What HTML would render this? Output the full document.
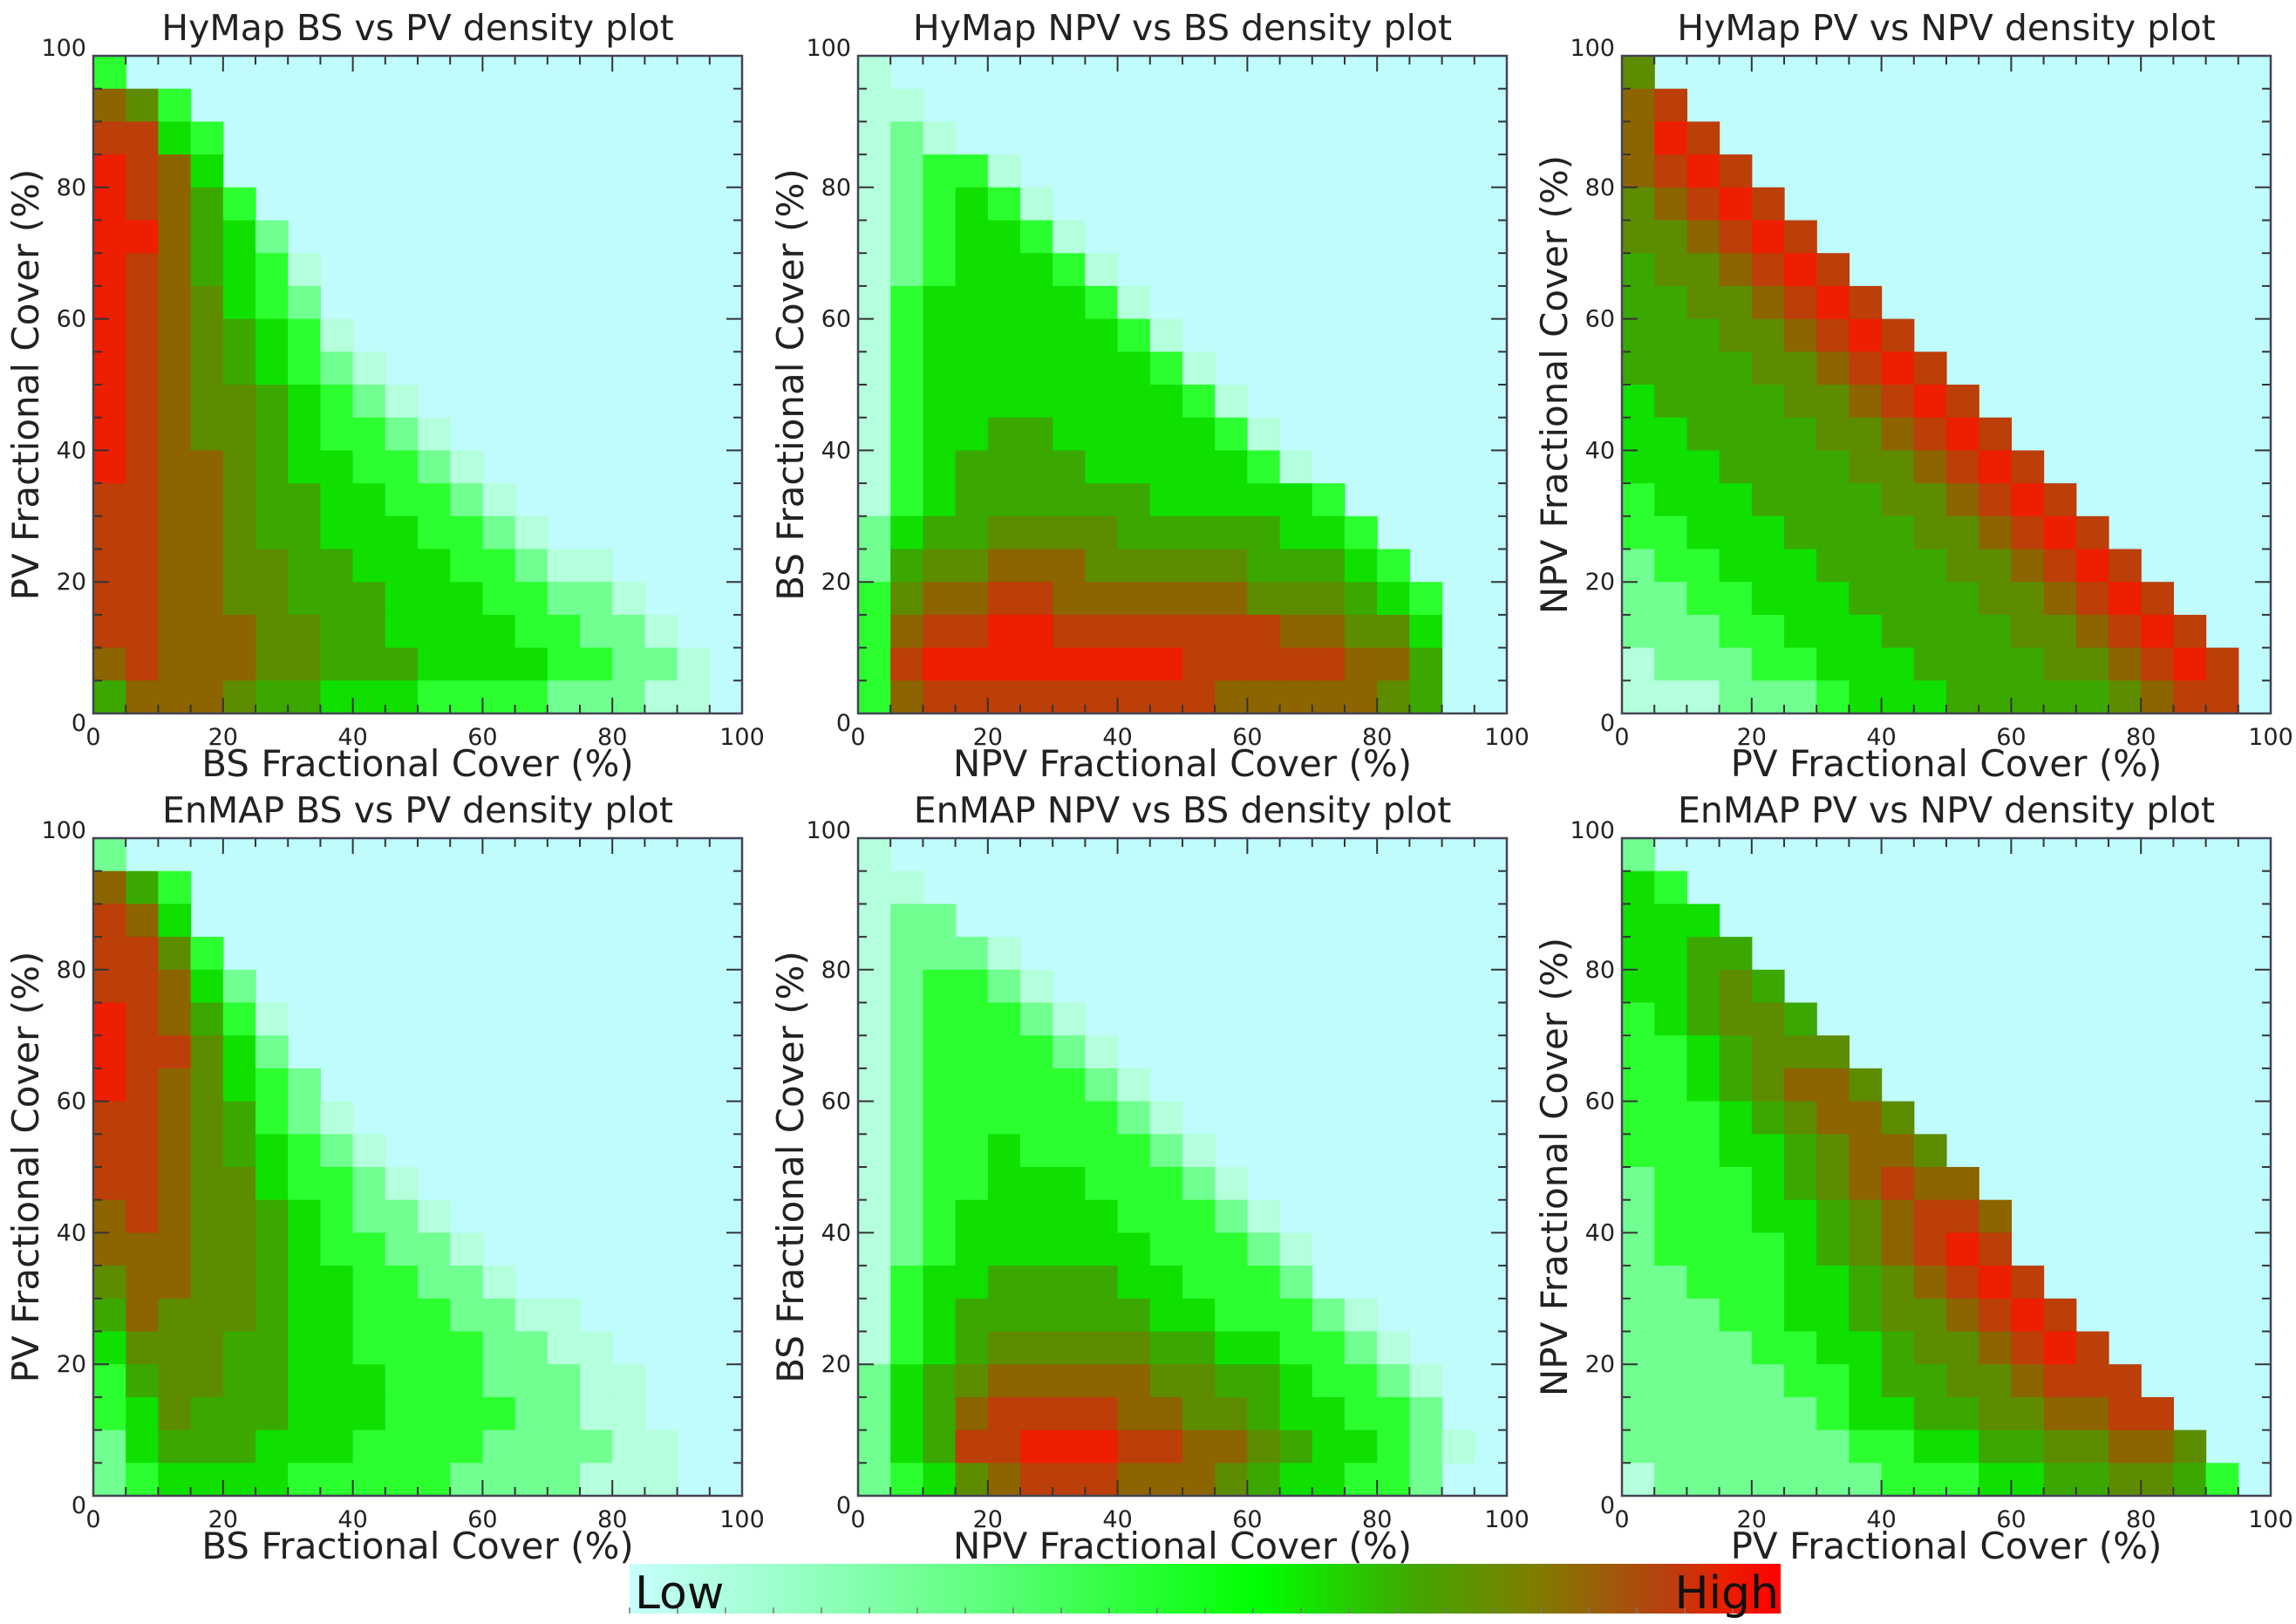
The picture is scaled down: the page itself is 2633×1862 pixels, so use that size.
<!DOCTYPE html>
<html><head><meta charset="utf-8"><style>
html,body{margin:0;padding:0;background:#fff;}
svg{display:block;font-family:"DejaVu Sans","Liberation Sans",sans-serif;}
</style></head><body>
<svg id="fig" width="2633" height="1862" viewBox="0 0 2633 1862" xmlns="http://www.w3.org/2000/svg"></svg>
<script>
// Panel titles and axis labels
const titles = ["HyMap BS vs PV density plot","HyMap NPV vs BS density plot","HyMap PV vs NPV density plot","EnMAP BS vs PV density plot","EnMAP NPV vs BS density plot","EnMAP PV vs NPV density plot"];
const xLabels = ["BS Fractional Cover (%)","NPV Fractional Cover (%)","PV Fractional Cover (%)","BS Fractional Cover (%)","NPV Fractional Cover (%)","PV Fractional Cover (%)"];
const yLabels = ["PV Fractional Cover (%)","BS Fractional Cover (%)","NPV Fractional Cover (%)","PV Fractional Cover (%)","BS Fractional Cover (%)","NPV Fractional Cover (%)"];
const tickValues = [0,20,40,60,80,100];
const binEdges = [0,5,10,15,20,25,30,35,40,45,50,55,60,65,70,75,80,85,90,95];
// density levels 0-9 per 5% bin; rows from top (95-100) to bottom (0-5), columns x 0-5 .. 95-100
const densityHyMapBSPV = ["30000000000000000000","76300000000000000000","88430000000000000000","98740000000000000000","98753000000000000000","99754200000000000000","98754310000000000000","98764320000000000000","98765431000000000000","98765432100000000000","98766543210000000000","98766543321000000000","98776544332100000000","88776554433210000000","88776554443321000000","88776655444332110000","88776655544433221000","88777665544443322100","78777665554444332210","57776554443333222110"];
const densityHyMapNPVBS = ["10000000000000000000","11000000000000000000","12100000000000000000","12331000000000000000","12343100000000000000","12344310000000000000","12344431000000000000","13444443100000000000","13444444310000000000","13444444431000000000","13444444443100000000","13445544444310000000","13455554444431000000","13455555544444300000","24556666555554430000","25667776666655543000","36778877777766654300","37889988888887766400","38999999998888877500","37888888888777776500"];
const densityHyMapPVNPV = ["60000000000000000000","78000000000000000000","79800000000000000000","78980000000000000000","67898000000000000000","66789800000000000000","56678980000000000000","55667898000000000000","55566789800000000000","55556678980000000000","45555667898000000000","44555566789800000000","44455556678980000000","34445555667898000000","33444555566789800000","23344455556678980000","22334445555667898000","22233444555566789800","12223344455556678980","11122234445555567880"];
const densityEnMAPBSPV = ["20000000000000000000","75300000000000000000","87400000000000000000","88630000000000000000","88742000000000000000","98753100000000000000","98864200000000000000","98764320000000000000","88765321000000000000","88765432100000000000","88766433210000000000","78766543221000000000","77766543322100000000","67766544332210000000","57666544333221100000","46665544333322110000","35665544433322211000","34655544433332211000","24555444333322221100","23444433333222211100"];
const densityEnMAPNPVBS = ["10000000000000000000","11000000000000000000","12200000000000000000","12221000000000000000","12332100000000000000","12333210000000000000","12333321000000000000","12333332100000000000","12333333210000000000","12334333321000000000","12334443332100000000","12344444333210000000","12344444433321000000","13445555443332000000","13455555544333210000","13456666655443321000","24567777766554332100","24578888776654433200","24588999887765443210","23467888777654433200"];
const densityEnMAPPVNPV = ["20000000000000000000","43000000000000000000","44400000000000000000","44550000000000000000","44565000000000000000","34566500000000000000","33456660000000000000","33456776000000000000","33345677600000000000","33344567760000000000","23334567877000000000","23334456788700000000","23333456789800000000","22333445678980000000","22233445667898000000","22223344566789800000","22222334556678880000","22222234455667788000","22222223344556677600","12222222333445566530"];
const densities = [densityHyMapBSPV,densityHyMapNPVBS,densityHyMapPVNPV,densityEnMAPBSPV,densityEnMAPNPVBS,densityEnMAPPVNPV];
const levelColors = ["#c0fcfc","#b4ffdc","#70ff90","#2cff30","#10e000","#3aa800","#5e8c00","#8c6400","#bc3e08","#ee1e00"];

const NS="http://www.w3.org/2000/svg";
const svg=document.getElementById('fig');
function mk(tag,attrs,parent){const e=document.createElementNS(NS,tag);for(const k in attrs)e.setAttribute(k,attrs[k]);(parent||svg).appendChild(e);return e;}

const colX=[107,984,1860], rowY=[64,961], W=744, H=754;
for(let p=0;p<6;p++){
  const L=colX[p%3], T=rowY[Math.floor(p/3)];
  const sx=v=>L+v/100*W, sy=v=>T+H-v/100*H;
  const g=mk('g',{});
  
  
  const bg=mk('rect',{x:L,y:T,width:W,height:H,fill:levelColors[0]},g);
  
  
  const dens=densities[p];
  for(let r=0;r<dens.length;r++){
    const yv=100-5*(r+1);
    for(let c=0;c<binEdges.length;c++){
      const lv=+dens[r][c]; if(!lv)continue;
      const xv=binEdges[c];
      const cell=mk('rect',{x:sx(xv),y:sy(yv+5),width:sx(xv+5)-sx(xv)+0.6,height:sy(yv)-sy(yv+5)+0.6,fill:levelColors[lv]},g);
      
      
    }
  }
  for(let v=0;v<=100;v+=5){
    const len=(v%20===0)?18:10;
    mk('line',{x1:sx(v),y1:T+H,x2:sx(v),y2:T+H-len,stroke:'#333',"stroke-width":2},g);
    mk('line',{x1:sx(v),y1:T,x2:sx(v),y2:T+len,stroke:'#333',"stroke-width":2},g);
    mk('line',{x1:L,y1:sy(v),x2:L+len,y2:sy(v),stroke:'#333',"stroke-width":2},g);
    mk('line',{x1:L+W,y1:sy(v),x2:L+W-len,y2:sy(v),stroke:'#333',"stroke-width":2},g);
  }
  const fr=mk('rect',{x:L,y:T,width:W,height:H,fill:'none',stroke:'#445',"stroke-width":2.5},g);
  
  
  tickValues.forEach(v=>{
    const tx=mk('text',{x:sx(v),y:T+H+36,"font-size":27,"text-anchor":"middle",fill:'#222'},g);
    tx.textContent=v;
    
    
    const ty=mk('text',{x:L-8,y:sy(v)+(v===0?20:v===100?0:9),"font-size":27,"text-anchor":"end",fill:'#222'},g);
    ty.textContent=v;
    
    
  });
  const t=mk('text',{x:L+W/2,y:T-18,"font-size":41,"text-anchor":"middle",fill:'#222'},g);
  t.textContent=titles[p];
  
  
  const xl=mk('text',{x:L+W/2,y:T+H+72,"font-size":42,"text-anchor":"middle",fill:'#222'},g);
  xl.textContent=xLabels[p];
  
  
  const yx=L-77, yy=T+H/2;
  const yl=mk('text',{x:yx,y:yy,"font-size":42,"text-anchor":"middle",fill:'#222',transform:`rotate(-90 ${yx} ${yy}) translate(0 14)`},g);
  yl.textContent=yLabels[p];
  
  
}
const defs=mk('defs',{});
const grad=mk('linearGradient',{id:'cb',x1:0,x2:1,y1:0,y2:0},defs);
[[0,'#c8fffc'],[0.12,'#a0ffd0'],[0.3,'#60ff80'],[0.55,'#00ff00'],[0.68,'#40a800'],[0.78,'#7a8000'],[0.9,'#b84010'],[0.95,'#e82000'],[1,'#ff0000']].forEach(s=>mk('stop',{offset:s[0],"stop-color":s[1]},grad));
const cbg=mk('g',{});


mk('rect',{x:722,y:1793,width:1320,height:57,fill:'url(#cb)'},cbg);
for(let i=0;i<=24;i++){mk('line',{x1:722+i*55,y1:1850,x2:722+i*55,y2:1843,stroke:'#777',"stroke-width":1.5},cbg);}
const lo=mk('text',{x:728,y:1844,"font-size":52,fill:'#111'},cbg);
lo.textContent='Low';


const hi=mk('text',{x:2040,y:1844,"font-size":52,"text-anchor":"end",fill:'#111'},cbg);
hi.textContent='High';


</script>
</body></html>
